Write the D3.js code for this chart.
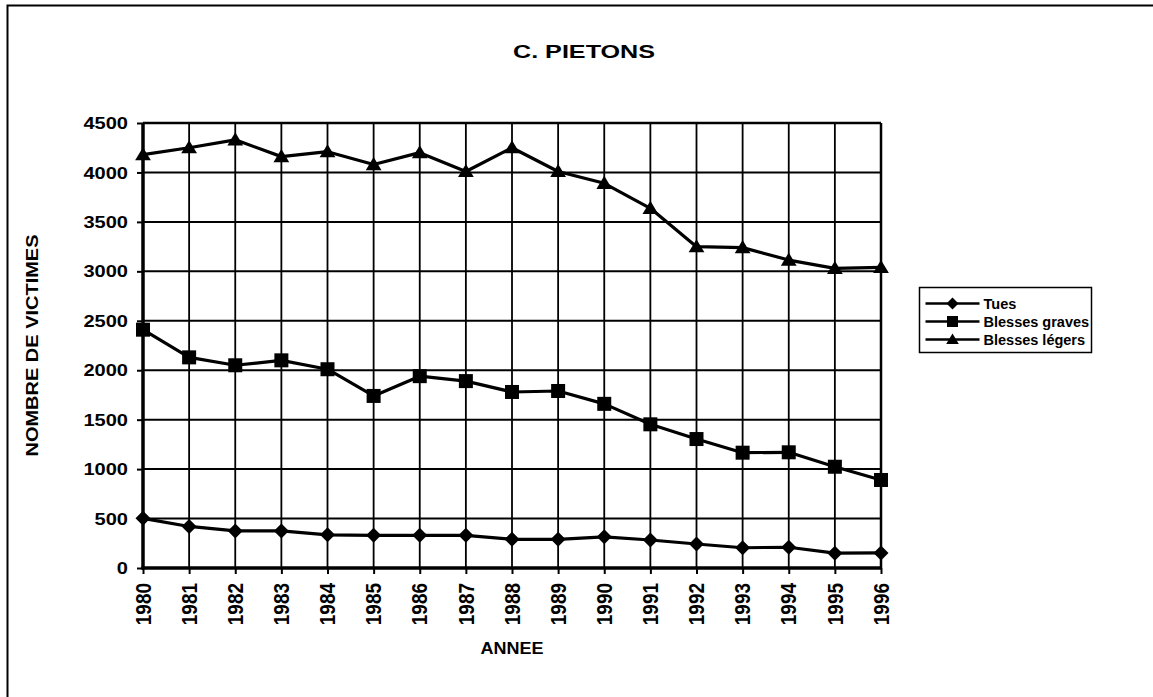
<!DOCTYPE html>
<html><head><meta charset="utf-8">
<script src="https://cdn.jsdelivr.net/npm/d3@7"></script>
<style>
html,body{margin:0;padding:0;background:#fff;}
svg{display:block;}
text{font-family:"Liberation Sans",Arial,sans-serif;font-weight:bold;fill:#000;}
</style></head>
<body>
<script>
const years = [1980,1981,1982,1983,1984,1985,1986,1987,1988,1989,1990,1991,1992,1993,1994,1995,1996];
const tues = [502,420,375,375,335,330,330,330,290,290,315,283,243,205,210,150,152];
const blessesGraves = [2410,2130,2050,2100,2010,1740,1940,1890,1780,1790,1660,1453,1304,1166,1170,1024,890];
const blessesLegers = [4180,4250,4330,4160,4210,4080,4200,4010,4250,4010,3890,3637,3249,3240,3114,3030,3040];
const yTicks = [0,500,1000,1500,2000,2500,3000,3500,4000,4500];
const seriesNames = ["Tues","Blesses graves","Blesses légers"];
const markerTypes = ["diamond","square","triangle"];
const title = "C. PIETONS";
const xTitle = "ANNEE";
const yTitle = "NOMBRE DE VICTIMES";

const W = 1153, H = 697;
const L = 143, R = 881, T = 123, B = 568;

const svg = d3.select("body").append("svg").attr("width", W).attr("height", H);

// outer frame (left & top only visible)
svg.append("path").attr("d", `M7.5,${H} L7.5,5.5 L${W},5.5`).attr("fill","none").attr("stroke","#000").attr("stroke-width",2);

const x = d3.scalePoint().domain(years).range([L, R]);
const y = d3.scaleLinear().domain([0, 4500]).range([B, T]);

// grid
const g = svg.append("g");
g.selectAll("line.h").data(yTicks.filter(v => v > 0)).join("line")
  .attr("x1", L).attr("x2", R).attr("y1", d => y(d)).attr("y2", d => y(d))
  .attr("stroke", "#000").attr("stroke-width", d => d === 4500 ? 2.5 : 2);
g.selectAll("line.v").data(years.slice(1)).join("line")
  .attr("y1", T).attr("y2", B).attr("x1", d => x(d)).attr("x2", d => x(d))
  .attr("stroke", "#000").attr("stroke-width", d => d === 1996 ? 2.5 : 1.8);

// axes
const yAxis = d3.axisLeft(y).tickValues(yTicks).tickSize(6).tickFormat("");
const ya = svg.append("g").attr("transform", `translate(${L},0)`).call(yAxis);
ya.select(".domain").remove();
ya.selectAll("line").attr("stroke","#000").attr("stroke-width",2);
const xAxis = d3.axisBottom(x).tickSize(6).tickFormat("");
const xa = svg.append("g").attr("transform", `translate(0,${B})`).call(xAxis);
xa.select(".domain").remove();
xa.selectAll("line").attr("stroke","#000").attr("stroke-width",2);
svg.append("line").attr("x1", L).attr("x2", L).attr("y1", T).attr("y2", B+1.5).attr("stroke","#000").attr("stroke-width",3.5);
svg.append("line").attr("x1", L-1.5).attr("x2", R+1).attr("y1", B).attr("y2", B).attr("stroke","#000").attr("stroke-width",3.5);

// y tick labels
svg.selectAll("text.yt").data(yTicks).join("text")
  .attr("transform", d => `translate(128,${y(d)}) scale(1.18,1)`)
  .attr("text-anchor","end").attr("dy","0.36em").attr("font-size",17)
  .text(d => d);
// x tick labels
svg.selectAll("text.xt").data(years).join("text")
  .attr("transform", d => `translate(${x(d)},583) scale(1.12,1) rotate(-90)`)
  .attr("text-anchor","end").attr("dy","0.36em").attr("font-size",19)
  .text(d => d);

// titles
svg.append("text").attr("x", 584).attr("y", 58).attr("text-anchor","middle")
  .attr("font-size", 19).attr("textLength", 142).attr("lengthAdjust","spacingAndGlyphs").text(title);
svg.append("text").attr("x", (L+R)/2).attr("y", 654).attr("text-anchor","middle")
  .attr("font-size", 16.5).attr("textLength", 63).attr("lengthAdjust","spacingAndGlyphs").text(xTitle);
svg.append("text").attr("transform", `translate(38,${(T+B)/2}) rotate(-90)`).attr("text-anchor","middle")
  .attr("font-size", 16.5).attr("textLength", 222).attr("lengthAdjust","spacingAndGlyphs").text(yTitle);

// markers
function marker(sel, type, s) {
  if (type === "diamond") sel.append("path").attr("d", `M0,${-s} L${s},0 L0,${s} L${-s},0 Z`);
  else if (type === "square") sel.append("rect").attr("x", -s).attr("y", -s).attr("width", 2*s).attr("height", 2*s);
  else sel.append("path").attr("d", `M0,${-s*1.0} L${s*1.05},${s*0.75} L${-s*1.05},${s*0.75} Z`);
}
const sizes = {diamond: 7.5, square: 7, triangle: 7.5};

const allSeries = [tues, blessesGraves, blessesLegers];
const line = d3.line().x((d,i) => x(years[i])).y(d => y(d));
allSeries.forEach((vals, k) => {
  svg.append("path").datum(vals).attr("d", line).attr("fill","none").attr("stroke","#000").attr("stroke-width",3.2).attr("stroke-linejoin","round");
  const mg = svg.append("g").attr("fill","#000");
  vals.forEach((v, i) => {
    const m = mg.append("g").attr("transform", `translate(${x(years[i])},${y(v)})`);
    marker(m, markerTypes[k], sizes[markerTypes[k]]);
  });
});

// legend
const lgX = 919.5, lgY = 287.5, rowH = 18;
const lg = svg.append("g");
lg.append("rect").attr("x", lgX).attr("y", lgY).attr("width", 172).attr("height", 65)
  .attr("fill","#fff").attr("stroke","#000").attr("stroke-width",1.5);
const lsizes = {diamond: 6, square: 5.5, triangle: 6};
seriesNames.forEach((name, k) => {
  const cy = lgY + 16 + k*rowH;
  lg.append("line").attr("x1", lgX+6).attr("x2", lgX+60).attr("y1", cy).attr("y2", cy).attr("stroke","#000").attr("stroke-width",2.5);
  const m = lg.append("g").attr("fill","#000").attr("transform", `translate(${lgX+33},${cy})`);
  marker(m, markerTypes[k], lsizes[markerTypes[k]]);
  lg.append("text").attr("x", lgX+64).attr("y", cy).attr("dy","0.36em").attr("font-size",14.5).text(name);
});
</script>
</body></html>
